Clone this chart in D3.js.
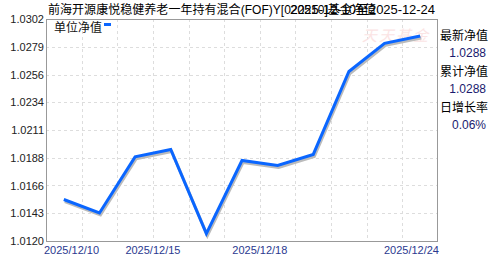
<!DOCTYPE html>
<html>
<head>
<meta charset="utf-8">
<script src="https://cdn.jsdelivr.net/npm/d3@7"></script>
<style>
  body { margin: 0; background: #fff; }
  text { font-family: Arial, "Liberation Sans", "Noto Sans CJK SC", sans-serif; }
</style>
</head>
<body>
<div id="chart"></div>
<script>
// trading days and unit NAV
var dates = ["2025/12/10", "2025/12/11", "2025/12/12", "2025/12/15", "2025/12/16", "2025/12/17",
             "2025/12/18", "2025/12/19", "2025/12/22", "2025/12/23", "2025/12/24"];
var nav = [1.0154, 1.0143, 1.0189, 1.0195, 1.0126, 1.0186, 1.0182, 1.0191, 1.0259, 1.0282, 1.0288];
var yTickLabels = ["1.0120", "1.0143", "1.0166", "1.0188", "1.0211", "1.0234", "1.0256", "1.0279", "1.0302"];
var xTickDates = ["2025/12/10", "2025/12/15", "2025/12/18", "2025/12/24"];
var sideLabels = ["最新净值", "累计净值", "日增长率"];
var sideValues = ["1.0288", "1.0288", "0.06%"];
var title = "前海开源康悦稳健养老一年持有混合(FOF)Y[022510]基金净值";
var period = "2025-12-10至2025-12-24";

var svgWidth = 488;
var svgHeight = 255;
var margin = { top: 19, right: 50, bottom: 14, left: 46 };
var width = svgWidth - margin.left - margin.right;
var height = svgHeight - margin.top - margin.bottom;

var svg = d3.select("#chart").append("svg")
  .attr("width", svgWidth)
  .attr("height", svgHeight);

var chartGroup = svg.append("g")
  .attr("transform", `translate(${margin.left}, ${margin.top})`);

var yMin = +yTickLabels[0], yMax = +yTickLabels[yTickLabels.length - 1];

var xScale = d3.scaleBand().domain(dates).range([0, width]);
var yScale = d3.scaleLinear().domain([yMin, yMax]).range([height, 0]);

// evenly spaced ticks, labelled with the printed values
var yTicks = yTickLabels.map((l, i) => yMin + (yMax - yMin) * i / (yTickLabels.length - 1));

// grid
chartGroup.append("g").selectAll("line")
  .data(yTicks.slice(1))
  .enter().append("line")
  .attr("x1", 0).attr("x2", width)
  .attr("y1", d => Math.round(yScale(d)) + 0.5)
  .attr("y2", d => Math.round(yScale(d)) + 0.5)
  .attr("stroke", "#dddddd")
  .attr("stroke-dasharray", "3,3");

chartGroup.append("g").selectAll("line")
  .data(dates.slice(1))
  .enter().append("line")
  .attr("x1", d => Math.round(xScale(d)) + 0.5)
  .attr("x2", d => Math.round(xScale(d)) + 0.5)
  .attr("y1", 0).attr("y2", height)
  .attr("stroke", "#dddddd")
  .attr("stroke-dasharray", "3,3");

// frame
chartGroup.append("rect")
  .attr("x", 0.5).attr("y", 0.5)
  .attr("width", width - 1).attr("height", height)
  .attr("fill", "none")
  .attr("stroke", "#999999");

// y axis labels
var yAxis = d3.axisLeft(yScale)
  .tickValues(yTicks)
  .tickSize(0)
  .tickPadding(2)
  .tickFormat((d, i) => yTickLabels[i]);

var yAxisG = chartGroup.append("g").call(yAxis);
yAxisG.select(".domain").remove();
yAxisG.selectAll("text")
  .attr("font-size", "11px")
  .attr("fill", "#222222")
  .attr("font-family", "Arial, 'Liberation Sans', sans-serif");

// x labels: at the grid line left of each date, kept inside the frame
var half = xScale.bandwidth() / 2;
chartGroup.append("g").selectAll("text")
  .data(xTickDates)
  .enter().append("text")
  .attr("x", (d, i) => i == 0 ? -2 : (i == xTickDates.length - 1 ? width + 1 : xScale(d)))
  .attr("y", height + 13)
  .attr("text-anchor", (d, i) => i == 0 ? "start" : (i == xTickDates.length - 1 ? "end" : "middle"))
  .attr("font-size", "11px")
  .attr("fill", "#2b3990")
  .text(d => d);

// watermark
chartGroup.append("text")
  .attr("x", width - 8)
  .attr("y", 22)
  .attr("text-anchor", "end")
  .attr("font-size", "15px")
  .attr("fill", "#fbe4e4")
  .attr("font-style", "italic")
  .attr("letter-spacing", "2px")
  .text("天天基金");

// line with shadow
var line = d3.line()
  .x(d => xScale(d.date) + half)
  .y(d => yScale(d.value));

var points = dates.map((d, i) => ({ date: d, value: nav[i] }));

chartGroup.append("path")
  .datum(points)
  .attr("d", line)
  .attr("transform", "translate(1,2)")
  .attr("fill", "none")
  .attr("stroke", "#bbbbbb")
  .attr("stroke-width", 3);

chartGroup.append("path")
  .datum(points)
  .attr("d", line)
  .attr("fill", "none")
  .attr("stroke", "#0a66ff")
  .attr("stroke-width", 3)
  .attr("stroke-linejoin", "miter");

// legend
chartGroup.append("text")
  .attr("x", 8)
  .attr("y", 13)
  .attr("font-size", "12px")
  .attr("fill", "#111111")
  .text("单位净值");
chartGroup.append("rect")
  .attr("x", 58).attr("y", 4)
  .attr("width", 7).attr("height", 3)
  .attr("fill", "#0a66ff");

// titles (the period text runs over the end of the title, as in the source)
svg.append("text")
  .attr("x", 48)
  .attr("y", 14)
  .attr("font-size", "12px")
  .attr("fill", "#000000")
  .attr("textLength", 328)
  .attr("lengthAdjust", "spacing")
  .text(title);

svg.append("text")
  .attr("x", 290)
  .attr("y", 14)
  .attr("font-size", "13px")
  .attr("fill", "#000000")
  .attr("textLength", 145)
  .attr("lengthAdjust", "spacing")
  .text(period);

// side panel
var side = svg.append("g");
sideLabels.forEach((l, i) => {
  side.append("text")
    .attr("x", 440)
    .attr("y", 40 + i * 36)
    .attr("font-size", "12px")
    .attr("fill", "#000000")
    .text(l);
  side.append("text")
    .attr("x", 486)
    .attr("y", 57 + i * 36)
    .attr("text-anchor", "end")
    .attr("font-size", "12px")
    .attr("fill", "#1a1a6e")
    .text(sideValues[i]);
});
</script>
</body>
</html>
